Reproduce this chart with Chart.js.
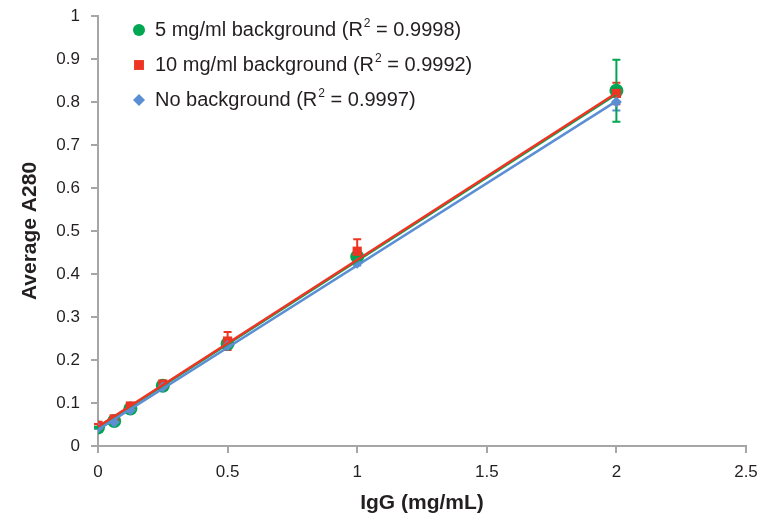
<!DOCTYPE html>
<html>
<head>
  <title>IgG standard curve</title>
  <script src="https://cdn.jsdelivr.net/npm/chart.js"></script>
  <style>
    html, body { margin: 0; padding: 0; background: #fff; }
    #wrap { width: 760px; height: 520px; }
  </style>
</head>
<body>
  <div id="wrap"><canvas id="chart"></canvas></div>
  <script>
    // IgG concentration (mg/mL)
    const conc = [0, 0.0625, 0.125, 0.25, 0.5, 1, 2];

    // average A280 and error per series
    const bg5 = [0.043, 0.058, 0.087, 0.140, 0.238, 0.440, 0.826];
    const bg5Err = [0.002, 0.003, 0.003, 0.004, 0.006, 0.008, 0.072];
    const bg10 = [0.048, 0.063, 0.093, 0.144, 0.244, 0.453, 0.820];
    const bg10Err = [0.003, 0.003, 0.006, 0.005, 0.021, 0.028, 0.025];
    const noBg = [0.042, 0.055, 0.084, 0.137, 0.234, 0.425, 0.800];
    const noBgErr = [0.002, 0.002, 0.003, 0.003, 0.005, 0.005, 0.020];

    const fitX = [0, 2];
    const fit5 = [0.043, 0.818];
    const fit10 = [0.045, 0.821];
    const fitNo = [0.038, 0.802];

    const seriesNames = ['5 mg/ml background', '10 mg/ml background', 'No background'];
    const r2 = ['0.9998', '0.9992', '0.9997'];

    const xTickLabels = ['0', '0.5', '1', '1.5', '2', '2.5'];
    const yTickLabels = ['0', '0.1', '0.2', '0.3', '0.4', '0.5', '0.6', '0.7', '0.8', '0.9', '1'];

    const GREEN = '#00a651';
    const RED = '#ee3524';
    const BLUE = '#5b8fd4';
    const GRAY = '#a6a6a6';
    const INK = '#231f20';
    const FONT = '"Liberation Sans", Arial, sans-serif';

    const pts = (xs, ys) => xs.map((x, i) => ({ x: x, y: ys[i] }));

    const errorBars = {
      id: 'errorBars',
      beforeDatasetsDraw(chart) {
        const { ctx, scales: { x, y } } = chart;
        chart.data.datasets.forEach((ds) => {
          if (!ds.errors) return;
          ctx.save();
          ctx.strokeStyle = ds.pointBackgroundColor;
          ctx.lineWidth = 2;
          ds.data.forEach((p, i) => {
            const px = x.getPixelForValue(p.x);
            const top = y.getPixelForValue(p.y + ds.errors[i]);
            const bot = y.getPixelForValue(p.y - ds.errors[i]);
            ctx.beginPath();
            ctx.moveTo(px, top); ctx.lineTo(px, bot);
            ctx.moveTo(px - 4, top); ctx.lineTo(px + 4, top);
            ctx.moveTo(px - 4, bot); ctx.lineTo(px + 4, bot);
            ctx.stroke();
          });
          ctx.restore();
        });
      }
    };

    const legendBox = {
      id: 'legendBox',
      afterDraw(chart) {
        const { ctx, chartArea } = chart;
        const items = [
          { color: GREEN, style: 'circle', radius: 6 },
          { color: RED, style: 'rect', radius: 7 },
          { color: BLUE, style: 'rectRot', radius: 6 }
        ];
        ctx.save();
        items.forEach((it, i) => {
          const cy = chartArea.top + 14 + i * 35;
          const mx = chartArea.left + 41;
          ctx.fillStyle = it.color;
          Chart.helpers.drawPoint(ctx, { pointStyle: it.style, radius: it.radius, rotation: 0, borderWidth: 0 }, mx, cy);

          ctx.fillStyle = INK;
          ctx.textBaseline = 'middle';
          ctx.textAlign = 'left';
          let tx = mx + 16;
          ctx.font = '20px ' + FONT;
          const head = seriesNames[i] + ' (R';
          ctx.fillText(head, tx, cy);
          tx += ctx.measureText(head).width;
          ctx.font = '12px ' + FONT;
          ctx.fillText('2', tx + 1, cy - 6);
          tx += ctx.measureText('2').width + 1;
          ctx.font = '20px ' + FONT;
          ctx.fillText(' = ' + r2[i] + ')', tx, cy);
        });
        ctx.restore();
      }
    };

    new Chart(document.getElementById('chart'), {
      type: 'scatter',
      data: {
        datasets: [
          { data: pts(fitX, fitNo), showLine: true, borderColor: BLUE, borderWidth: 2.5, pointRadius: 0, order: 1 },
          { data: pts(fitX, fit10), showLine: true, borderColor: RED, borderWidth: 2.5, pointRadius: 0, order: 2 },
          { data: pts(fitX, fit5), showLine: true, borderColor: GREEN, borderWidth: 2.5, pointRadius: 0, order: 3 },
          { label: seriesNames[2], data: pts(conc, noBg), errors: noBgErr, pointStyle: 'rectRot', pointRadius: 5.5,
            pointBackgroundColor: BLUE, pointBorderWidth: 0, order: 4 },
          { label: seriesNames[1], data: pts(conc, bg10), errors: bg10Err, pointStyle: 'rect', pointRadius: 6.5,
            pointBackgroundColor: RED, pointBorderWidth: 0, order: 5 },
          { label: seriesNames[0], data: pts(conc, bg5), errors: bg5Err, pointStyle: 'circle', pointRadius: 7,
            pointBackgroundColor: GREEN, pointBorderWidth: 0, order: 6 }
        ]
      },
      options: {
        responsive: true,
        maintainAspectRatio: false,
        animation: false,
        events: [],
        layout: { padding: { top: 16, right: 14, left: 0, bottom: 0 } },
        plugins: {
          legend: { display: false },
          tooltip: { enabled: false }
        },
        scales: {
          x: {
            type: 'linear',
            min: 0,
            max: 2.5,
            ticks: {
              stepSize: 0.5, color: INK, font: { family: FONT, size: 17 }, padding: 9,
              callback: (v, i) => xTickLabels[i]
            },
            grid: { drawOnChartArea: false, drawTicks: true, tickLength: 7, color: GRAY, lineWidth: 2 },
            border: { color: GRAY, width: 2 },
            title: {
              display: true, text: 'IgG (mg/mL)', color: INK,
              font: { family: FONT, size: 21, weight: 'bold' }, padding: { top: 16 }
            },
            afterFit(s) {
              s.height = 74;
              s.paddingLeft = 0;
              s.paddingRight = 0;
            }
          },
          y: {
            type: 'linear',
            min: 0,
            max: 1,
            ticks: {
              stepSize: 0.1, color: INK, font: { family: FONT, size: 17 }, padding: 11,
              callback: (v, i) => yTickLabels[i]
            },
            grid: { drawOnChartArea: false, drawTicks: true, tickLength: 7, color: GRAY, lineWidth: 2 },
            border: { color: GRAY, width: 2 },
            title: {
              display: true, text: 'Average A280', color: INK,
              font: { family: FONT, size: 21, weight: 'bold' }, padding: { top: 18, bottom: 0 }
            },
            afterFit(s) {
              s.width = 98;
              s.paddingTop = 0;
              s.paddingBottom = 0;
            }
          }
        }
      },
      plugins: [errorBars, legendBox]
    });
  </script>
</body>
</html>
